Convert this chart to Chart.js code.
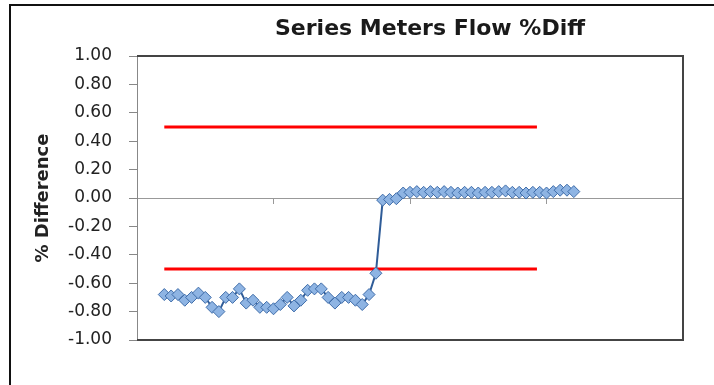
<!DOCTYPE html>
<html>
<head>
<meta charset="utf-8">
<script src="https://cdn.jsdelivr.net/npm/chart.js@4.4.1/dist/chart.umd.min.js"></script>
<style>
  body { margin: 0; background: #fff; }
  #wrap { width: 714px; height: 385px; }
</style>
</head>
<body>
<div id="wrap"><canvas id="flowChart" width="714" height="385"></canvas></div>
<script>
// Series meters flow % difference
const chartTitle = "Series Meters Flow %Diff";
const yTitle = "% Difference";

// sample numbers on the x axis (axis runs 0..80, tick every 20)
const xMin = 0, xMax = 80, xStep = 20;
const firstSample = 4;

const pctDiff = [
    -0.68, -0.69, -0.68, -0.72, -0.70, -0.67, -0.70, -0.77, -0.80, -0.70,
    -0.70, -0.64, -0.74, -0.72, -0.77, -0.77, -0.78, -0.75, -0.70, -0.76,
    -0.72, -0.65, -0.64, -0.64, -0.70, -0.74, -0.70, -0.70, -0.72, -0.75,
    -0.68, -0.53,
    -0.015, -0.01, -0.005, 0.035, 0.04,
    0.045, 0.04, 0.045, 0.04, 0.045, 0.04, 0.035, 0.04, 0.04, 0.035,
    0.04, 0.04, 0.045, 0.05, 0.04, 0.04, 0.035, 0.04, 0.04, 0.035,
    0.045, 0.055, 0.055, 0.045
];

// +/- 0.5 limit lines
const limitStart = 4, limitEnd = 58.6;
const upperLimit = 0.5;
const lowerLimit = -0.5;

const yMin = -1, yMax = 1, yStep = 0.2;

const diffPoints = pctDiff.map((v, i) => ({ x: firstSample + i, y: v }));
const upperPoints = [{ x: limitStart, y: upperLimit }, { x: limitEnd, y: upperLimit }];
const lowerPoints = [{ x: limitStart, y: lowerLimit }, { x: limitEnd, y: lowerLimit }];

// frame, plot border and title drawn by hand (excel look)
const decorations = {
    id: "decorations",
    beforeDraw(chart) {
        const ctx = chart.ctx;
        ctx.save();
        ctx.fillStyle = "#fff";
        ctx.fillRect(0, 0, chart.width, chart.height);
        ctx.strokeStyle = "#111";
        ctx.lineWidth = 2;
        ctx.beginPath();
        ctx.moveTo(chart.width, 5);
        ctx.lineTo(10, 5);
        ctx.lineTo(10, chart.height);
        ctx.stroke();

        ctx.fillStyle = "#1a1a1a";
        ctx.font = "bold 22px 'DejaVu Sans'";
        ctx.textAlign = "center";
        ctx.textBaseline = "middle";
        ctx.fillText(chartTitle, 430, 29);
        ctx.restore();
    },
    beforeDatasetsDraw(chart) {
        const { ctx, chartArea: a } = chart;
        ctx.save();
        ctx.strokeStyle = "#444";
        ctx.lineWidth = 2;
        ctx.beginPath();
        ctx.moveTo(a.left, a.top);
        ctx.lineTo(a.right, a.top);
        ctx.lineTo(a.right, a.bottom);
        ctx.lineTo(a.left, a.bottom);
        ctx.stroke();
        ctx.restore();
    }
};

new Chart(document.getElementById("flowChart"), {
    type: "line",
    data: {
        datasets: [
            {
                label: "% Diff",
                data: diffPoints,
                borderColor: "#2F5C98",
                borderWidth: 2,
                pointStyle: "rectRot",
                pointRadius: 6,
                pointBackgroundColor: "#8EB4E3",
                pointBorderColor: "#3F6DAA",
                pointBorderWidth: 1,
                tension: 0
            },
            {
                label: "Upper",
                data: upperPoints,
                borderColor: "#FF0000",
                borderWidth: 3,
                pointRadius: 0
            },
            {
                label: "Lower",
                data: lowerPoints,
                borderColor: "#FF0000",
                borderWidth: 3,
                pointRadius: 0
            }
        ]
    },
    options: {
        responsive: false,
        animation: false,
        devicePixelRatio: 1,
        layout: {
            padding: { left: 29, top: 56, right: 31, bottom: 45 }
        },
        plugins: {
            legend: { display: false },
            title: { display: false },
            tooltip: { enabled: false }
        },
        scales: {
            x: {
                type: "linear",
                min: xMin,
                max: xMax,
                position: { y: 0 },
                ticks: { display: false, stepSize: xStep },
                grid: {
                    drawOnChartArea: false,
                    drawTicks: true,
                    tickLength: 5,
                    color: "#999"
                },
                border: { display: true, color: "#999", width: 1 }
            },
            y: {
                min: yMin,
                max: yMax,
                ticks: {
                    stepSize: yStep,
                    padding: 17,
                    color: "#222",
                    font: { family: "'DejaVu Sans'", size: 17 },
                    callback: (v) => (Math.abs(v) < 1e-9 ? 0 : v).toFixed(2)
                },
                grid: {
                    drawOnChartArea: false,
                    drawTicks: true,
                    tickLength: 8,
                    color: "#888"
                },
                border: { display: true, color: "#888", width: 1 },
                title: {
                    display: true,
                    text: yTitle,
                    color: "#222",
                    font: { family: "'DejaVu Sans'", size: 18, weight: "bold" }
                },
                afterFit(scale) {
                    scale.width = 108;
                }
            }
        }
    },
    plugins: [decorations]
});
</script>
</body>
</html>
